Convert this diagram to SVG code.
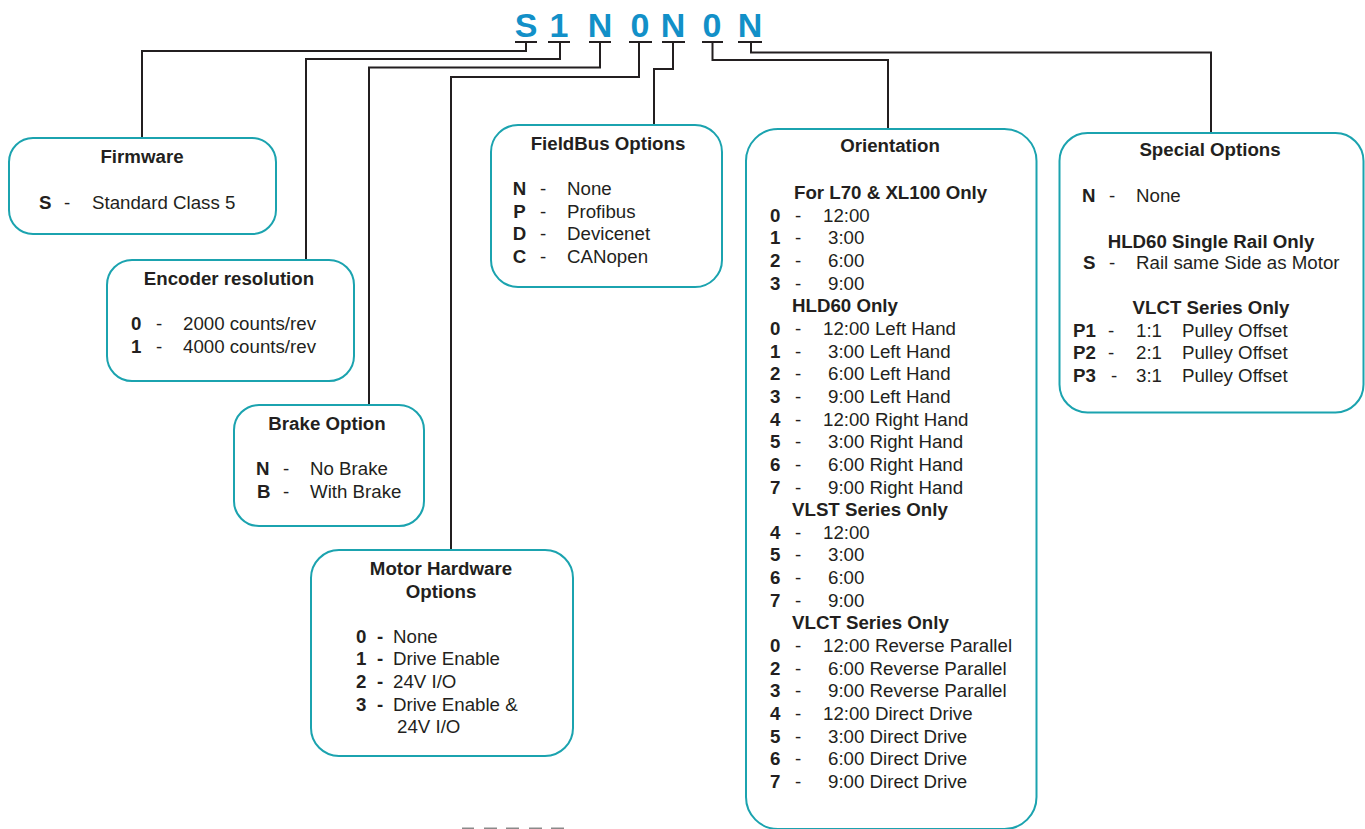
<svg xmlns="http://www.w3.org/2000/svg" width="1365" height="829" viewBox="0 0 1365 829">
<style>
.box{fill:#fff;stroke:#1ba3af;stroke-width:2}
.ln{fill:none;stroke:#231f20;stroke-width:2}
.ul{stroke:#231f20;stroke-width:2}
.t{font-family:"Liberation Sans",Arial,Helvetica,sans-serif;font-size:18.7px;fill:#231f20}
.b{font-weight:bold}
.m{text-anchor:middle}
.hdr{font-family:"Liberation Sans",Arial,Helvetica,sans-serif;font-size:34px;font-weight:bold;fill:#1290c8;text-anchor:middle}
.gd{stroke:#8a8a8a;stroke-width:1.6}
</style>
<rect width="1365" height="829" fill="#fff"/>
<g id="code">
<text class="hdr" x="526" y="37">S</text>
<text class="hdr" x="559" y="37">1</text>
<text class="hdr" x="600" y="37">N</text>
<text class="hdr" x="640" y="37">0</text>
<text class="hdr" x="673" y="37">N</text>
<text class="hdr" x="712" y="37">0</text>
<text class="hdr" x="750" y="37">N</text>
<line class="ul" x1="515" y1="42" x2="537" y2="42"/>
<line class="ul" x1="548" y1="42" x2="570" y2="42"/>
<line class="ul" x1="589" y1="42" x2="611" y2="42"/>
<line class="ul" x1="629" y1="42" x2="652" y2="42"/>
<line class="ul" x1="662" y1="42" x2="685" y2="42"/>
<line class="ul" x1="702" y1="42" x2="723" y2="42"/>
<line class="ul" x1="738" y1="42" x2="762" y2="42"/>
</g>
<g id="connectors">
<polyline class="ln" points="526,42 526,51 142,51 142,139"/>
<polyline class="ln" points="560,42 560,59 306,59 306,260"/>
<polyline class="ln" points="600,42 600,67.5 369,67.5 369,405"/>
<polyline class="ln" points="639,42 639,77 451,77 451,550"/>
<polyline class="ln" points="673,42 673,69 654,69 654,125"/>
<polyline class="ln" points="712.5,42 712.5,60 888,60 888,129"/>
<polyline class="ln" points="751,42 751,52.5 1211,52.5 1211,133"/>
</g>
<g id="firmware">
<rect class="box" x="9" y="138" width="267" height="96" rx="24"/>
<text class="t b m" x="142" y="163">Firmware</text>
<text class="t b" x="39" y="209">S</text>
<text class="t" x="64" y="209">-</text>
<text class="t" x="92" y="209">Standard Class 5</text>
</g>
<g id="encoder">
<rect class="box" x="107" y="260" width="247" height="121" rx="25"/>
<text class="t b m" x="229" y="285">Encoder resolution</text>
<text class="t b" x="131" y="330">0</text>
<text class="t" x="156" y="330">-</text>
<text class="t" x="183" y="330">2000 counts/rev</text>
<text class="t b" x="131" y="353">1</text>
<text class="t" x="156" y="353">-</text>
<text class="t" x="183" y="353">4000 counts/rev</text>
</g>
<g id="brake">
<rect class="box" x="234" y="405" width="190" height="121" rx="25"/>
<text class="t b m" x="327" y="430">Brake Option</text>
<text class="t b" x="256" y="475">N</text>
<text class="t" x="283" y="475">-</text>
<text class="t" x="310" y="475">No Brake</text>
<text class="t b" x="257" y="497.5">B</text>
<text class="t" x="283" y="497.5">-</text>
<text class="t" x="310" y="497.5">With Brake</text>
</g>
<g id="motor">
<rect class="box" x="311" y="550" width="262" height="206" rx="28"/>
<text class="t b m" x="441" y="575">Motor Hardware</text>
<text class="t b m" x="441" y="597.5">Options</text>
<text class="t b" x="356" y="642.7">0</text>
<text class="t b" x="377" y="642.7">-</text>
<text class="t" x="393" y="642.7">None</text>
<text class="t b" x="356" y="665.3">1</text>
<text class="t b" x="377" y="665.3">-</text>
<text class="t" x="393" y="665.3">Drive Enable</text>
<text class="t b" x="356" y="688">2</text>
<text class="t b" x="377" y="688">-</text>
<text class="t" x="393" y="688">24V I/O</text>
<text class="t b" x="356" y="710.7">3</text>
<text class="t b" x="377" y="710.7">-</text>
<text class="t" x="393" y="710.7">Drive Enable &amp;</text>
<text class="t" x="397" y="733.3">24V I/O</text>
</g>
<g id="fieldbus">
<rect class="box" x="491" y="125" width="231" height="162" rx="27"/>
<text class="t b m" x="608" y="150">FieldBus Options</text>
<text class="t b m" x="519.5" y="195">N</text>
<text class="t" x="540" y="195">-</text>
<text class="t" x="567" y="195">None</text>
<text class="t b m" x="519.5" y="217.5">P</text>
<text class="t" x="540" y="217.5">-</text>
<text class="t" x="567" y="217.5">Profibus</text>
<text class="t b m" x="519.5" y="240">D</text>
<text class="t" x="540" y="240">-</text>
<text class="t" x="567" y="240">Devicenet</text>
<text class="t b m" x="519.5" y="263">C</text>
<text class="t" x="540" y="263">-</text>
<text class="t" x="567" y="263">CANopen</text>
</g>
<g id="orientation">
<rect class="box" x="746" y="129" width="290.5" height="700" rx="32"/>
<text class="t b m" x="890" y="152.3">Orientation</text>
<text class="t b" x="794" y="199">For L70 &amp; XL100 Only</text>
<g class="t b">
<text x="770" y="221.7">0</text><text x="770" y="244.3">1</text><text x="770" y="267">2</text><text x="770" y="289.6">3</text>
<text x="792" y="312.3">HLD60 Only</text>
<text x="770" y="335">0</text><text x="770" y="357.6">1</text><text x="770" y="380.2">2</text><text x="770" y="402.9">3</text>
<text x="770" y="425.6">4</text><text x="770" y="448.2">5</text><text x="770" y="470.9">6</text><text x="770" y="493.5">7</text>
<text x="792" y="516.1">VLST Series Only</text>
<text x="770" y="538.8">4</text><text x="770" y="561.4">5</text><text x="770" y="584">6</text><text x="770" y="606.7">7</text>
<text x="792" y="629.3">VLCT Series Only</text>
<text x="770" y="652">0</text><text x="770" y="674.6">2</text><text x="770" y="697.3">3</text><text x="770" y="720">4</text>
<text x="770" y="742.6">5</text><text x="770" y="765.2">6</text><text x="770" y="787.9">7</text>
</g>
<g class="t">
<text x="795" y="221.7">-</text><text x="795" y="244.3">-</text><text x="795" y="267">-</text><text x="795" y="289.6">-</text>
<text x="795" y="335">-</text><text x="795" y="357.6">-</text><text x="795" y="380.2">-</text><text x="795" y="402.9">-</text>
<text x="795" y="425.6">-</text><text x="795" y="448.2">-</text><text x="795" y="470.9">-</text><text x="795" y="493.5">-</text>
<text x="795" y="538.8">-</text><text x="795" y="561.4">-</text><text x="795" y="584">-</text><text x="795" y="606.7">-</text>
<text x="795" y="652">-</text><text x="795" y="674.6">-</text><text x="795" y="697.3">-</text><text x="795" y="720">-</text>
<text x="795" y="742.6">-</text><text x="795" y="765.2">-</text><text x="795" y="787.9">-</text>
<text x="823" y="221.7">12:00</text>
<text x="828" y="244.3">3:00</text>
<text x="828" y="267">6:00</text>
<text x="828" y="289.6">9:00</text>
<text x="823" y="335">12:00 Left Hand</text>
<text x="828" y="357.6">3:00 Left Hand</text>
<text x="828" y="380.2">6:00 Left Hand</text>
<text x="828" y="402.9">9:00 Left Hand</text>
<text x="823" y="425.6">12:00 Right Hand</text>
<text x="828" y="448.2">3:00 Right Hand</text>
<text x="828" y="470.9">6:00 Right Hand</text>
<text x="828" y="493.5">9:00 Right Hand</text>
<text x="823" y="538.8">12:00</text>
<text x="828" y="561.4">3:00</text>
<text x="828" y="584">6:00</text>
<text x="828" y="606.7">9:00</text>
<text x="823" y="652">12:00 Reverse Parallel</text>
<text x="828" y="674.6">6:00 Reverse Parallel</text>
<text x="828" y="697.3">9:00 Reverse Parallel</text>
<text x="823" y="720">12:00 Direct Drive</text>
<text x="828" y="742.6">3:00 Direct Drive</text>
<text x="828" y="765.2">6:00 Direct Drive</text>
<text x="828" y="787.9">9:00 Direct Drive</text>
</g>
</g>
<g id="special">
<rect class="box" x="1059.5" y="133" width="304" height="279.5" rx="28"/>
<text class="t b m" x="1210" y="156">Special Options</text>
<text class="t b" x="1082" y="201.7">N</text>
<text class="t" x="1109" y="201.7">-</text>
<text class="t" x="1136" y="201.7">None</text>
<text class="t b m" x="1211" y="247.7">HLD60 Single Rail Only</text>
<text class="t b" x="1083" y="269">S</text>
<text class="t" x="1109" y="269">-</text>
<text class="t" x="1136" y="269">Rail same Side as Motor</text>
<text class="t b m" x="1211" y="314.3">VLCT Series Only</text>
<text class="t b" x="1073" y="336.7">P1</text>
<text class="t" x="1108" y="336.7">-</text>
<text class="t" x="1136" y="336.7">1:1</text>
<text class="t" x="1182" y="336.7">Pulley Offset</text>
<text class="t b" x="1073" y="359.3">P2</text>
<text class="t" x="1108" y="359.3">-</text>
<text class="t" x="1136" y="359.3">2:1</text>
<text class="t" x="1182" y="359.3">Pulley Offset</text>
<text class="t b" x="1073" y="381.7">P3</text>
<text class="t" x="1111" y="381.7">-</text>
<text class="t" x="1136" y="381.7">3:1</text>
<text class="t" x="1182" y="381.7">Pulley Offset</text>
</g>
<g id="dashes">
<line class="gd" x1="462" y1="828.3" x2="474" y2="828.3"/>
<line class="gd" x1="484" y1="828.3" x2="497" y2="828.3"/>
<line class="gd" x1="506" y1="828.3" x2="519" y2="828.3"/>
<line class="gd" x1="529" y1="828.3" x2="542" y2="828.3"/>
<line class="gd" x1="551" y1="828.3" x2="564" y2="828.3"/>
</g>
</svg>
